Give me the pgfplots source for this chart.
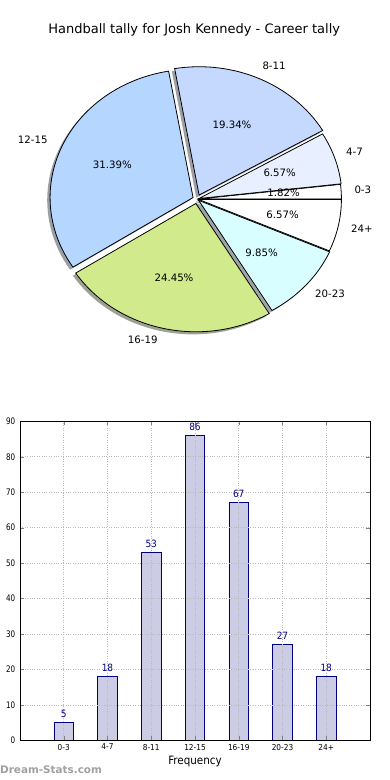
\documentclass[border=0pt]{standalone}
\usepackage{pgfplots}
\usepackage{pgfplotstable}
\pgfplotsset{compat=1.18}
\usepackage{fontspec}
\setmainfont{DejaVu Sans}
\newfontfamily\cf{DejaVu Sans}[FakeStretch=0.9]
\newfontfamily\cfy{DejaVu Sans}[FakeStretch=0.8]
\definecolor{cA}{RGB}{255,255,255}
\definecolor{cB}{RGB}{232,240,255}
\definecolor{cC}{RGB}{197,217,255}
\definecolor{cD}{RGB}{181,214,255}
\definecolor{cE}{RGB}{208,234,140}
\definecolor{cF}{RGB}{217,254,255}
\definecolor{cG}{RGB}{255,255,255}
\colorlet{sA}{cA!30!black}
\colorlet{sB}{cB!30!black}
\colorlet{sC}{cC!30!black}
\colorlet{sD}{cD!30!black}
\colorlet{sE}{cE!30!black}
\colorlet{sF}{cF!30!black}
\colorlet{sG}{cG!30!black}
\definecolor{barfill}{RGB}{204,204,229}
\definecolor{navyc}{RGB}{0,0,128}
\definecolor{wmark}{RGB}{160,160,160}
% pie wedge: #1 cumulative count before slice, #2 count, #3 explode, #4 #5 extra shift (px)
\newcommand{\wedgepath}[5]{%
  \pgfmathsetmacro{\aA}{#1/274*360}%
  \pgfmathsetmacro{\aB}{(#1+#2)/274*360}%
  \pgfmathsetmacro{\aM}{(#1+#2/2)/274*360}%
  \pgfmathsetmacro{\pcx}{197+#3*143*cos(\aM)+#4}%
  \pgfmathsetmacro{\pcy}{580.9+#3*128.3*sin(\aM)+#5}%
  \pgfmathsetmacro{\psx}{\pcx+143*cos(\aA)}%
  \pgfmathsetmacro{\psy}{\pcy+128.3*sin(\aA)}%
  \pgfpathmoveto{\pgfplotspointaxisxy{\pcx}{\pcy}}%
  \pgfpathlineto{\pgfplotspointaxisxy{\psx}{\psy}}%
  \pgfpatharc{\aA}{\aB}{143pt and 128.3pt}%
  \pgfpathclose}
\newcommand{\pieshadow}[4]{\pgfplotsextra{\begin{pgfscope}\wedgepath{#1}{#2}{#3}{-2.86}{-2.57}\pgfsetfillcolor{#4}\pgfsetfillopacity{0.5}\pgfusepath{fill}\end{pgfscope}}}
\newcommand{\pieslice}[4]{\pgfplotsextra{\begin{pgfscope}\wedgepath{#1}{#2}{#3}{0}{0}\pgfsetfillcolor{#4}\pgfsetstrokecolor{black}\pgfsetlinewidth{0.8pt}\pgfsetmiterjoin\pgfusepath{fill,stroke}\end{pgfscope}}}
\pgfplotstableread{
x y
0 5
1 18
2 53
3 86
4 67
5 27
6 18
}\bardata
\begin{document}
\begin{tikzpicture}
\path[use as bounding box] (0,0) rectangle (390pt,780pt);
\begin{axis}[at={(0pt,0pt)}, anchor=south west, x=1pt, y=1pt,
  xmin=0, xmax=390, ymin=0, ymax=780, hide axis, clip=false]
\pieshadow{0}{5}{0.01}{sA}
\pieshadow{5}{18}{0.015}{sB}
\pieshadow{23}{53}{0.035}{sC}
\pieshadow{76}{86}{0.03}{sD}
\pieshadow{162}{67}{0.035}{sE}
\pieshadow{229}{27}{0.015}{sF}
\pieshadow{256}{18}{0.01}{sG}
\pieslice{0}{5}{0.01}{cA}
\pieslice{5}{18}{0.015}{cB}
\pieslice{23}{53}{0.035}{cC}
\pieslice{76}{86}{0.03}{cD}
\pieslice{162}{67}{0.035}{cE}
\pieslice{229}{27}{0.015}{cF}
\pieslice{256}{18}{0.01}{cG}
\node[anchor=base, inner sep=0, font=\fontsize{13}{15}\selectfont] at (194.2,746) {Handball tally for Josh Kennedy - Career tally};
\begin{scope}[every node/.style={inner sep=0, font=\fontsize{10.2}{12}\selectfont}]
\node[anchor=west] at (262.3,714) {8-11};
\node[anchor=west] at (346,628.3) {4-7};
\node[anchor=west] at (354.3,590) {0-3};
\node[anchor=west] at (351,551.7) {24+};
\node[anchor=west] at (315,486) {20-23};
\node[anchor=east] at (157.7,440) {16-19};
\node[anchor=east] at (47.7,640) {12-15};
\node at (232,655.7) {19.34\%};
\node at (279.7,607.7) {6.57\%};
\node at (283.5,587) {1.82\%};
\node at (282.5,565) {6.57\%};
\node at (261.7,527.7) {9.85\%};
\node at (174,502.3) {24.45\%};
\node at (112.3,615) {31.39\%};
\end{scope}
\node[anchor=base west, inner sep=0, text=wmark, font=\bfseries\fontsize{10.4}{12}\selectfont] at (0,6) {Dream-Stats.com};
\end{axis}
\begin{axis}[at={(20pt,39.7pt)}, anchor=south west, scale only axis,
  width=350pt, height=319pt,
  xmin=-1, xmax=7, ymin=0, ymax=90,
  xtick={0,1,2,3,4,5,6},
  xticklabels={0-3,4-7,8-11,12-15,16-19,20-23,24+},
  ytick={0,10,...,90},
  /pgf/number format/assume math mode=true,
  xticklabel style={font=\cf\fontsize{8.2}{9}\selectfont, inner sep=0pt, yshift=-3.5pt},
  yticklabel style={font=\cfy\fontsize{9}{10}\selectfont, inner sep=0pt, xshift=-4.5pt},
  grid=major, grid style={dotted, line width=0.6pt, gray!55},
  axis on top,
  tick align=inside, tick pos=both, major tick length=4pt,
  axis line style={line width=0.9pt},
  xlabel={Frequency},
  xlabel style={font=\cf\fontsize{11.5}{12}\selectfont, at={(axis description cs:0.5,0)}, anchor=base, yshift=-23.7pt},
]
\addplot[ybar, bar width=0.45, fill=barfill, draw=navyc, line width=0.7pt,
  nodes near coords,
  nodes near coords style={font=\cf\fontsize{10}{11}\selectfont, text=navyc, inner sep=0pt, yshift=4.5pt}]
  table[x=x, y=y] {\bardata};
\end{axis}
\end{tikzpicture}
\end{document}
